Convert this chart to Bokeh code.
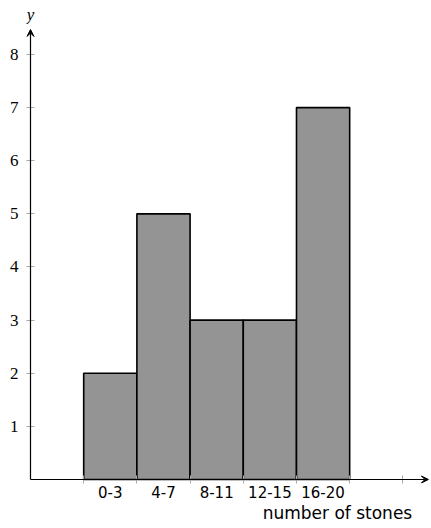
from bokeh.plotting import figure
from bokeh.models import FixedTicker, LinearAxis, Range1d, Arrow, VeeHead, Label
from bokeh.embed import file_html
from bokeh.resources import INLINE

categories = ["0-3", "4-7", "8-11", "12-15", "16-20"]
counts = [2, 5, 3, 3, 7]
y_ticks = [1, 2, 3, 4, 5, 6, 7, 8]
x_label = "number of stones"
y_label = "y"

n = len(categories)
lefts = [i + 1 for i in range(n)]
rights = [i + 2 for i in range(n)]
centers = [i + 1.5 for i in range(n)]
edges = [i + 1 for i in range(n + 2)]

SERIF = "serif"
SANS = "DejaVu Sans"

p = figure(width=431, height=528, output_backend="svg", toolbar_location=None,
           x_range=Range1d(-0.0752, 7.538), y_range=Range1d(-0.0753, 9.016),
           x_axis_type=None, y_axis_type=None,
           min_border_left=26, min_border_right=0, min_border_top=0, min_border_bottom=45)
p.outline_line_color = None
p.background_fill_color = "white"
p.border_fill_color = "white"
p.xgrid.visible = False
p.ygrid.visible = False

p.quad(left=lefts, right=rights, bottom=[0] * n, top=counts,
       fill_color="#949494", line_color="black", line_width=1.6)

# y axis (labels + ticks crossing the axis line)
yax = LinearAxis(ticker=FixedTicker(ticks=y_ticks, minor_ticks=[]))
yax.axis_line_color = None
yax.major_tick_in = 8
yax.major_tick_out = 0
yax.major_tick_line_color = "#a8a8a8"
yax.major_tick_line_width = 1
yax.minor_tick_line_color = None
yax.major_label_standoff = 8
yax.major_label_text_font = SERIF
yax.major_label_text_font_size = "17px"
yax.major_label_text_color = "black"
p.add_layout(yax, "left")

# x axis (category labels at bar centres, ticks at bar edges)
xax = LinearAxis(ticker=FixedTicker(ticks=centers, minor_ticks=edges))
xax.axis_line_color = None
xax.major_tick_line_color = None
xax.minor_tick_in = 8
xax.minor_tick_out = 0
xax.minor_tick_line_color = "#a8a8a8"
xax.major_label_overrides = {c: lab for c, lab in zip(centers, categories)}
xax.major_label_standoff = -4
xax.major_label_text_font = SANS
xax.major_label_text_font_size = "15px"
xax.major_label_text_color = "black"
p.add_layout(xax, "below")

# x axis title, placed under the right part of the axis
label_pos = 5.77
tax = LinearAxis(ticker=FixedTicker(ticks=[label_pos], minor_ticks=[]))
tax.axis_line_color = None
tax.major_tick_line_color = None
tax.minor_tick_line_color = None
tax.major_label_overrides = {label_pos: x_label}
tax.major_label_standoff = -4
tax.major_label_text_font = SANS
tax.major_label_text_font_size = "17px"
tax.major_label_text_color = "black"
p.add_layout(tax, "below")

# axis lines with arrows
p.add_layout(Arrow(x_start=0, y_start=0, x_end=7.48, y_end=0,
                   line_color="black", line_width=1.2,
                   end=VeeHead(size=7, line_color="black", fill_color="black", line_width=1)))
p.add_layout(Arrow(x_start=0, y_start=0, x_end=0, y_end=8.47,
                   line_color="black", line_width=1.2,
                   end=VeeHead(size=7, line_color="black", fill_color="black", line_width=1)))

p.add_layout(Label(x=0, y=8.75, text=y_label, text_align="center", text_baseline="middle",
                   text_font=SERIF, text_font_style="italic",
                   text_font_size="17px", text_color="black"))

open("out.html", "w").write(file_html(p, INLINE))
